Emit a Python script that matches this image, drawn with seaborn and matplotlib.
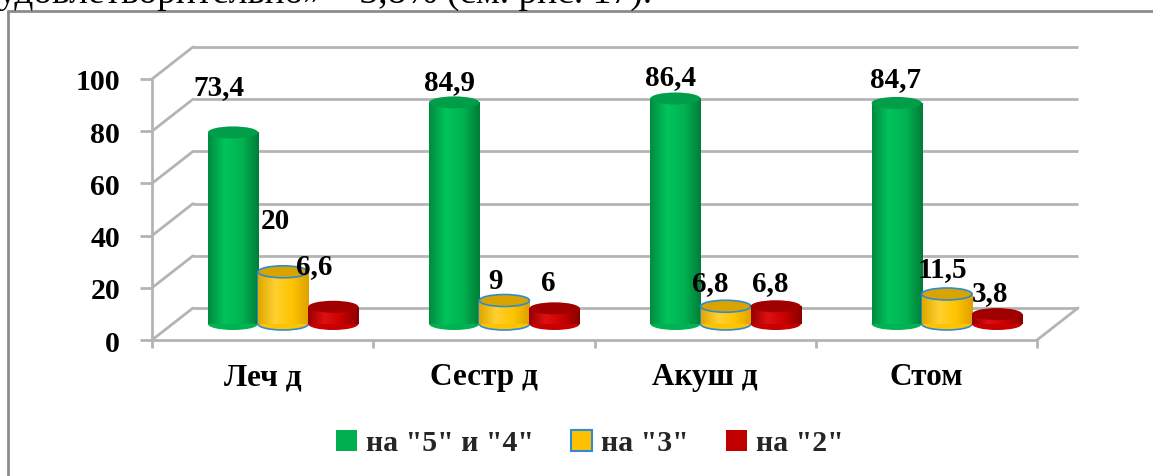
import numpy as np
import pandas as pd
import seaborn as sns
import matplotlib
matplotlib.use("Agg")
import matplotlib.pyplot as plt
from matplotlib.patches import Ellipse, Patch
from matplotlib.colors import LinearSegmentedColormap
from matplotlib.lines import Line2D

# ---------------- data ----------------
categories = ["Леч д", "Сестр д", "Акуш д", "Стом"]
series = ['на "5" и "4"', 'на "3"', 'на "2"']
grade_54 = [73.4, 84.9, 86.4, 84.7]
grade_3 = [20, 9, 6.8, 11.5]
grade_2 = [6.6, 6, 6.8, 3.8]
value_labels = [["73,4", "84,9", "86,4", "84,7"],
                ["20", "9", "6,8", "11,5"],
                ["6,6", "6", "6,8", "3,8"]]
y_ticks = [0, 20, 40, 60, 80, 100]
top_text = "удовлетворительно» – 3,8% (см. рис. 17)."

# ---------------- styles / layout ----------------
body_colors = ["#00B050", "#FFC000", "#C00000"]
grad_colors = [["#008C3F", "#00C45C", "#00B352", "#007E38"],
               ["#E0A800", "#FFD030", "#FFC400", "#E0A000"],
               ["#9A0000", "#E01010", "#C80000", "#8A0000"]]
cap_colors = ["#009E49", "#D9A400", "#A00000"]
edge_colors = ["none", "#2E8BD6", "none"]
# label offsets (pixels) relative to bar top centre
label_offsets = [[(-14, 46), (-5, 21), (-5, 22), (-1, 24)],
                 [(-8, 51), (-9, 20), (-15, 24), (-4, 25)],
                 [(-19, 41), (-6, 26), (-6, 24), (-7, 22)]]

sns.set_theme(style="white")
plt.rcParams["font.family"] = ["Liberation Serif", "DejaVu Serif"]
plt.rcParams["font.weight"] = "bold"

W, H = 1153, 477
fig = plt.figure(figsize=(W / 100, H / 100), dpi=100)
fig.patch.set_facecolor("white")

PW, PH = 885, 261
ax_back = fig.add_axes([193 / W, (H - 309) / H, PW / W, PH / H], zorder=1)
ax_mid = fig.add_axes([172.5 / W, (H - 325) / H, PW / W, PH / H], zorder=2)
ax_front = fig.add_axes([152 / W, (H - 341) / H, PW / W, PH / H], zorder=3)

grid_col = "#B4B4B4"

df = pd.DataFrame({
    "category": categories * 3,
    "series": [series[0]] * 4 + [series[1]] * 4 + [series[2]] * 4,
    "value": grade_54 + grade_3 + grade_2,
})

sns.barplot(data=df, x="category", y="value", hue="series", hue_order=series,
            order=categories, palette=body_colors, width=0.68, saturation=1,
            ax=ax_mid, legend=False)

for a in (ax_back, ax_mid, ax_front):
    a.set_xlim(-0.5, 3.5)
    a.set_ylim(0, 100)
    a.set_facecolor("none")
    for s in a.spines.values():
        s.set_visible(False)
    a.set_xlabel("")
    a.set_ylabel("")

# back wall grid lines
ax_back.hlines(y_ticks, -0.5, 3.5, colors=grid_col, lw=2, clip_on=False)
ax_back.set_xticks([])
ax_back.set_yticks([])

# cylinders
px_per_unit = PH / 100.0
cap_h = 12 / px_per_unit
for i, cont in enumerate(ax_mid.containers):
    cmap = LinearSegmentedColormap.from_list(f"g{i}", grad_colors[i])
    for j, bar in enumerate(cont):
        x0, w, h = bar.get_x(), bar.get_width(), bar.get_height()
        xc = x0 + w / 2
        z = 3 + i
        bar.set_zorder(z)
        bar.set_edgecolor(edge_colors[i])
        bar.set_linewidth(1.2)
        bot = Ellipse((xc, 0), w, cap_h, facecolor=grad_colors[i][2],
                      edgecolor=edge_colors[i], lw=1.2, zorder=z - 0.1, clip_on=False)
        ax_mid.add_patch(bot)
        grad = np.linspace(0, 1, 64)[np.newaxis, :]
        im = ax_mid.imshow(grad, extent=[x0, x0 + w, 0, h], aspect="auto",
                           cmap=cmap, zorder=z + 0.05, interpolation="bicubic")
        im.set_clip_path(bar)
        cap = Ellipse((xc, h), w, cap_h, facecolor=cap_colors[i],
                      edgecolor=edge_colors[i], lw=1.2, zorder=z + 0.1, clip_on=False)
        ax_mid.add_patch(cap)
        dx, dy = label_offsets[i][j]
        ax_mid.annotate(value_labels[i][j], xy=(xc, h), xytext=(dx, dy),
                        textcoords="offset pixels", ha="center", va="center",
                        fontsize=21, fontweight="bold", color="black",
                        zorder=20, annotation_clip=False)

ax_mid.set_xlim(-0.5, 3.5)
ax_mid.set_ylim(0, 100)
ax_mid.set_xticks([])
ax_mid.set_yticks([])

# front plane: axis, ticks, labels
ax_front.spines["left"].set_visible(True)
ax_front.spines["bottom"].set_visible(True)
for s in ("left", "bottom"):
    ax_front.spines[s].set_color(grid_col)
    ax_front.spines[s].set_linewidth(2)
ax_front.set_yticks(y_ticks)
ax_front.set_yticklabels([str(v) for v in y_ticks], fontsize=21.5, fontweight="bold")
ax_front.tick_params(axis="y", direction="out", length=9, width=2, color=grid_col,
                     pad=14, left=True, labelcolor="black")
ax_front.set_xticks(range(len(categories)))
ax_front.set_xticklabels(categories, fontsize=22.5, fontweight="bold")
ax_front.tick_params(axis="x", which="major", length=0, pad=16, labelcolor="black")
ax_front.set_xticks(np.arange(-0.5, len(categories), 1.0), minor=True)
ax_front.tick_params(axis="x", which="minor", direction="out", length=6, width=2,
                     color=grid_col, bottom=True)

# slanted side-wall lines and floor right edge
inv = fig.transFigure.inverted()
def link(x, v):
    p0 = inv.transform(ax_front.transData.transform((x, v)))
    p1 = inv.transform(ax_back.transData.transform((x, v)))
    fig.add_artist(Line2D([p0[0], p1[0]], [p0[1], p1[1]], color=grid_col, lw=2, zorder=0.5))
for v in y_ticks:
    link(-0.5, v)
link(3.5, 0)

# legend
handles = [Patch(facecolor=body_colors[0], edgecolor="none"),
           Patch(facecolor=body_colors[1], edgecolor="#2E8BD6", lw=1.5),
           Patch(facecolor=body_colors[2], edgecolor="none")]
fig.legend(handles=handles, labels=series, loc="center",
           bbox_to_anchor=(590 / W, (H - 444) / H), ncol=3, frameon=False,
           prop={"family": "Liberation Serif", "weight": "bold", "size": 21.5},
           handlelength=0.7, handleheight=0.7, handletextpad=0.3,
           columnspacing=1.25)

# outer chart frame
fig.add_artist(Line2D([8 / W, 8 / W], [0, (H - 12) / H], color="#8C8C8C", lw=2))
fig.add_artist(Line2D([8 / W, 1], [(H - 12) / H, (H - 12) / H], color="#8C8C8C", lw=2))

# clipped text of surrounding document
fig.text(-2 / W, (H - 3) / H, top_text, fontsize=27, fontweight="normal",
         family="Liberation Serif", va="baseline", ha="left", color="black")

fig.savefig("out.png", dpi=100, facecolor="white")
